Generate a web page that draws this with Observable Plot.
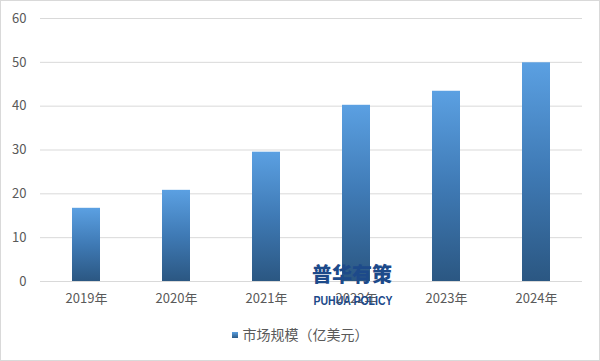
<!DOCTYPE html>
<html><head><meta charset="utf-8">
<script src="https://cdn.jsdelivr.net/npm/d3@7"></script>
<script src="https://cdn.jsdelivr.net/npm/@observablehq/plot@0.6"></script>
<style>
body{margin:0;background:#fff;}
#wrap{position:relative;width:600px;height:361px;overflow:hidden;font-family:"Noto Sans CJK SC","Microsoft YaHei",sans-serif;background:#fff;}
#frame{position:absolute;left:0;top:0;right:0;bottom:0;border:1px solid #d9d9d9;pointer-events:none;}
#legend{position:absolute;top:324px;left:0;width:600px;text-align:center;font-size:14px;color:#595959;white-space:nowrap;}
#legend .sw{display:inline-block;width:6px;height:6px;background:linear-gradient(#5b9fe0,#2c5a86);margin-right:5px;vertical-align:middle;position:relative;top:-1px;}
#wm{position:absolute;left:306px;top:262px;width:92px;text-align:center;color:#1d4a8a;pointer-events:none;white-space:nowrap;}
#wm .cn{font-size:20px;font-weight:900;line-height:24px;}
#wm .en{font-size:12.5px;font-weight:700;line-height:13px;font-family:"Liberation Sans","DejaVu Sans",sans-serif;display:inline-block;transform:scaleX(0.84);transform-origin:center;}
</style></head>
<body>
<div id="wrap"></div>
<script>
const years = ["2019年","2020年","2021年","2022年","2023年","2024年"];
const values = [16.7, 20.8, 29.5, 40.2, 43.4, 49.9];
const yTicks = [0,10,20,30,40,50,60];
const seriesName = "市场规模（亿美元）";

const data = years.map((y,i)=>({year:y, value:values[i]}));

const chart = Plot.plot({
  width: 600,
  height: 315,
  marginTop: 18,
  marginBottom: 34,
  marginLeft: 40,
  marginRight: 18,
  style: {fontSize: "13px", fontFamily: '"Noto Sans CJK SC", sans-serif', color: "#595959", background: "transparent"},
  x: {domain: years, paddingInner: 0.69, paddingOuter: 0.345, label: null, tickSize: 0, tickPadding: 12},
  y: {domain: [0,60], ticks: yTicks, label: null, tickSize: 0, tickPadding: 14},
  marks: [
    Plot.gridY(yTicks, {stroke: "#d9d9d9", strokeOpacity: 1}),
    Plot.barY(data, {x: "year", y: "value", fill: "url(#barGrad)"})
  ]
});

const svg = d3.select(chart);
const grad = svg.insert("defs", ":first-child").append("linearGradient")
  .attr("id","barGrad").attr("x1",0).attr("y1",0).attr("x2",0).attr("y2",1);
grad.append("stop").attr("offset","0%").attr("stop-color","#5ba0e2");
grad.append("stop").attr("offset","50%").attr("stop-color","#3f7ab5");
grad.append("stop").attr("offset","100%").attr("stop-color","#2b5782");

const wrap = document.getElementById("wrap");
wrap.appendChild(chart);

const wm = document.createElement("div");
wm.id = "wm";
wm.innerHTML = '<div class="cn">普华有策</div><div class="en">PUHUA POLICY</div>';
wrap.appendChild(wm);

const lg = document.createElement("div");
lg.id = "legend";
lg.innerHTML = '<span class="sw"></span>' + seriesName;
wrap.appendChild(lg);

const fr = document.createElement("div");
fr.id = "frame";
wrap.appendChild(fr);
</script>
</body></html>
